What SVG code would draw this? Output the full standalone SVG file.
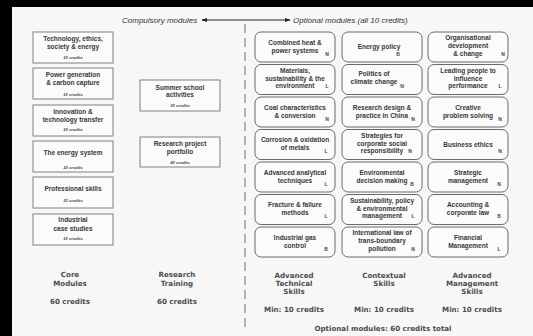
<svg xmlns="http://www.w3.org/2000/svg" width="533" height="336" viewBox="0 0 533 336">
<defs>
<marker id="ah" viewBox="0 0 10 10" refX="9" refY="5" markerWidth="6" markerHeight="6" orient="auto-start-reverse" markerUnits="userSpaceOnUse">
<path d="M0,1.5 L10,5 L0,8.5 Z" fill="#222"/>
</marker>
<style>
.core{fill:#fbfbfb;stroke:#808080;stroke-width:1}
.opt{fill:#fbfbfb;stroke:#6a6a6a;stroke-width:1}
.t{font-family:"Liberation Sans",Arial,sans-serif;font-weight:bold;font-size:6.5px;fill:#383838;text-anchor:middle}
.c{font-family:"Liberation Sans",Arial,sans-serif;font-weight:bold;font-style:italic;font-size:4.2px;fill:#444;text-anchor:middle}
.k{font-family:"Liberation Sans",Arial,sans-serif;font-weight:bold;font-size:5px;fill:#444;text-anchor:middle}
.h{font-family:"Liberation Sans",Arial,sans-serif;font-style:italic;font-size:8px;fill:#333}
.b{font-family:"DejaVu Sans",Verdana,sans-serif;font-weight:bold;font-size:7.1px;fill:#4d4d4d;text-anchor:middle}
</style>
</defs>
<rect x="0" y="0" width="533" height="336" fill="#f7f7f7"/>
<rect x="0" y="0" width="533" height="7" fill="#000"/>
<rect x="0" y="0" width="12" height="336" fill="#000"/>

<text class="h" x="122" y="22.8">Compulsory modules</text>
<text class="h" x="293" y="22.8">Optional modules (all 10 credits)</text>
<line x1="245" y1="24" x2="245" y2="330" stroke="#9a9a9a" stroke-width="1.5" stroke-dasharray="9 5"/>

<g id="connectors">
<line x1="202" y1="20" x2="290" y2="20" stroke="#222" stroke-width="1.2" marker-start="url(#ah)" marker-end="url(#ah)"/>
</g>

<!-- Core modules -->
<g id="core1"><rect class="core" x="33" y="32" width="80" height="31"/>
<text class="t" x="73" y="41">Technology, ethics,</text><text class="t" x="73" y="49">society &amp; energy</text><text class="c" x="73" y="58.8">10 credits</text></g>
<g id="core2"><rect class="core" x="33" y="68" width="80" height="31"/>
<text class="t" x="73" y="77.3">Power generation</text><text class="t" x="73" y="84.6">&amp; carbon capture</text><text class="c" x="73" y="95.5">10 credits</text></g>
<g id="core3"><rect class="core" x="33" y="105" width="80" height="31"/>
<text class="t" x="73" y="114">Innovation &amp;</text><text class="t" x="73" y="121.6">technology transfer</text><text class="c" x="73" y="130.8">10 credits</text></g>
<g id="core4"><rect class="core" x="33" y="141" width="80" height="31"/>
<text class="t" x="73" y="155">The energy system</text><text class="c" x="73" y="168.8">10 credits</text></g>
<g id="core5"><rect class="core" x="33" y="177" width="80" height="31"/>
<text class="t" x="73" y="191">Professional skills</text><text class="c" x="73" y="201.5">10 credits</text></g>
<g id="core6"><rect class="core" x="33" y="214" width="80" height="31"/>
<text class="t" x="73" y="222.3">Industrial</text><text class="t" x="73" y="231.3">case studies</text><text class="c" x="73" y="239.8">10 credits</text></g>

<!-- Research training -->
<g id="summer"><rect class="core" x="140" y="80" width="80" height="31"/>
<text class="t" x="180" y="90">Summer school</text><text class="t" x="180" y="97.3">activities</text><text class="c" x="180" y="106.5">30 credits</text></g>
<g id="research"><rect class="core" x="140" y="137" width="80" height="30"/>
<text class="t" x="180" y="146.3">Research project</text><text class="t" x="180" y="154.3">portfolio</text><text class="c" x="180" y="163.5">40 credits</text></g>

<!-- Column 1 -->
<g id="chp"><rect class="opt" x="255" y="32" width="80" height="30" rx="6"/>
<text class="t" x="295" y="44.8">Combined heat &amp;</text><text class="t" x="295" y="52.8">power systems</text><text class="k" x="327" y="55.8">N</text></g>
<g id="materials"><rect class="opt" x="255" y="64.5" width="80" height="30" rx="6"/>
<text class="t" x="295" y="72.8">Materials,</text><text class="t" x="295" y="80.5">sustainability &amp; the</text><text class="t" x="295" y="88.3">environment</text><text class="k" x="327" y="88.3">L</text></g>
<g id="coal"><rect class="opt" x="255" y="97" width="80" height="30" rx="6"/>
<text class="t" x="295" y="109.8">Coal characteristics</text><text class="t" x="295" y="117.8">&amp; conversion</text><text class="k" x="327" y="120.8">N</text></g>
<g id="corrosion"><rect class="opt" x="255" y="129.5" width="80" height="30" rx="6"/>
<text class="t" x="295" y="142.3">Corrosion &amp; oxidation</text><text class="t" x="295" y="150.3">of metals</text><text class="k" x="326" y="153.3">L</text></g>
<g id="analytical"><rect class="opt" x="255" y="162" width="80" height="30" rx="6"/>
<text class="t" x="295" y="174.8">Advanced analytical</text><text class="t" x="295" y="182.8">techniques</text><text class="k" x="326" y="185.8">L</text></g>
<g id="fracture"><rect class="opt" x="255" y="194.5" width="80" height="30" rx="6"/>
<text class="t" x="295" y="207.3">Fracture &amp; failure</text><text class="t" x="295" y="215.3">methods</text><text class="k" x="326" y="218.3">L</text></g>
<g id="gas"><rect class="opt" x="255" y="227" width="80" height="30" rx="6"/>
<text class="t" x="295" y="239.8">Industrial gas</text><text class="t" x="295" y="247.8">control</text><text class="k" x="326" y="250.8">B</text></g>

<!-- Column 2 -->
<g id="energypolicy"><rect class="opt" x="342" y="32" width="80" height="30" rx="6"/>
<text class="t" x="379" y="49.3">Energy  policy</text><text class="k" x="398" y="55.8">B</text></g>
<g id="politics"><rect class="opt" x="342" y="64.5" width="80" height="30" rx="6"/>
<text class="t" x="374" y="76.3">Politics of</text><text class="t" x="374" y="84.3">climate change</text><text class="k" x="402" y="87.8">N</text></g>
<g id="researchdesign"><rect class="opt" x="342" y="97" width="80" height="30" rx="6"/>
<text class="t" x="382" y="109.8">Research design &amp;</text><text class="t" x="382" y="117.8">practice in China</text><text class="k" x="413" y="120.8">N</text></g>
<g id="csr"><rect class="opt" x="342" y="129.5" width="80" height="30" rx="6"/>
<text class="t" x="382" y="137.8">Strategies for</text><text class="t" x="382" y="145.5">corporate social</text><text class="t" x="382" y="153.3">responsibility</text><text class="k" x="410" y="153.3">N</text></g>
<g id="envdecision"><rect class="opt" x="342" y="162" width="80" height="30" rx="6"/>
<text class="t" x="382" y="174.8">Environmental</text><text class="t" x="382" y="182.8">decision making</text><text class="k" x="412" y="185.8">B</text></g>
<g id="sustainability"><rect class="opt" x="342" y="194.5" width="80" height="30" rx="6"/>
<text class="t" x="382" y="202.8">Sustainability, policy</text><text class="t" x="382" y="210.5">&amp; environmental</text><text class="t" x="382" y="218.3">management</text><text class="k" x="413" y="218.3">L</text></g>
<g id="intlaw"><rect class="opt" x="342" y="227" width="80" height="30" rx="6"/>
<text class="t" x="382" y="235.3">International law of</text><text class="t" x="382" y="243">trans-boundary</text><text class="t" x="382" y="250.8">pollution</text><text class="k" x="413" y="250.8">N</text></g>

<!-- Column 3 -->
<g id="orgdev"><rect class="opt" x="428" y="32" width="80" height="30" rx="6"/>
<text class="t" x="468" y="40.3">Organisational</text><text class="t" x="468" y="48">development</text><text class="t" x="468" y="55.8">&amp; change</text><text class="k" x="503" y="55.8">N</text></g>
<g id="leading"><rect class="opt" x="428" y="64.5" width="80" height="30" rx="6"/>
<text class="t" x="468" y="72.8">Leading people to</text><text class="t" x="468" y="80.5">influence</text><text class="t" x="468" y="88.3">performance</text><text class="k" x="500" y="88.3">L</text></g>
<g id="creative"><rect class="opt" x="428" y="97" width="80" height="30" rx="6"/>
<text class="t" x="468" y="109.8">Creative</text><text class="t" x="468" y="117.8">problem solving</text><text class="k" x="500" y="120.8">N</text></g>
<g id="ethics"><rect class="opt" x="428" y="129.5" width="80" height="30" rx="6"/>
<text class="t" x="468" y="146.8">Business ethics</text><text class="k" x="500" y="153.3">N</text></g>
<g id="strategic"><rect class="opt" x="428" y="162" width="80" height="30" rx="6"/>
<text class="t" x="468" y="174.8">Strategic</text><text class="t" x="468" y="182.8">management</text><text class="k" x="499" y="185.8">N</text></g>
<g id="accounting"><rect class="opt" x="428" y="194.5" width="80" height="30" rx="6"/>
<text class="t" x="468" y="207.3">Accounting &amp;</text><text class="t" x="468" y="215.3">corporate law</text><text class="k" x="499" y="218.3">B</text></g>
<g id="financial"><rect class="opt" x="428" y="227" width="80" height="30" rx="6"/>
<text class="t" x="468" y="239.8">Financial</text><text class="t" x="468" y="247.8">Management</text><text class="k" x="499" y="250.8">L</text></g>

<!-- Bottom labels -->
<g id="label-core"><text class="b" x="70" y="276.6">Core</text><text class="b" x="70" y="285.6">Modules</text><text class="b" x="70" y="303.6">60 credits</text></g>
<g id="label-research"><text class="b" x="177" y="276.6">Research</text><text class="b" x="177" y="285.6">Training</text><text class="b" x="177" y="303.6">60 credits</text></g>
<g id="label-tech"><text class="b" x="294" y="278.3">Advanced</text><text class="b" x="294" y="286.3">Technical</text><text class="b" x="294" y="294.3">Skills</text><text class="b" x="294" y="311.6">Min: 10 credits</text></g>
<g id="label-context"><text class="b" x="384" y="278.3">Contextual</text><text class="b" x="384" y="286.3">Skills</text><text class="b" x="384" y="311.6">Min: 10 credits</text></g>
<g id="label-mgmt"><text class="b" x="472" y="278.3">Advanced</text><text class="b" x="472" y="286.3">Management</text><text class="b" x="472" y="294.3">Skills</text><text class="b" x="472" y="311.6">Min: 10 credits</text></g>
<text class="b" x="383" y="330.6">Optional modules: 60 credits total</text>
</svg>
